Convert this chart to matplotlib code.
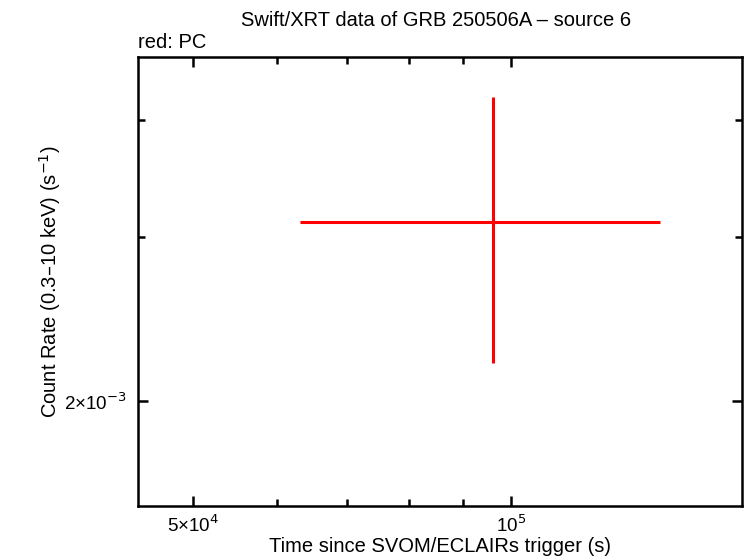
import matplotlib
matplotlib.use("Agg")
import matplotlib.pyplot as plt
from matplotlib.ticker import FixedLocator, FixedFormatter, NullFormatter

plt.rcParams['font.family'] = ['Liberation Sans', 'DejaVu Sans']

# Data (PC mode)
t = [9.62e4]
t_lo = [6.32e4]
t_hi = [1.384e5]
rate = [3.11e-3]
rate_lo = [2.195e-3]
rate_hi = [4.23e-3]

x_major = [5e4, 1e5]
x_major_labels = ['5×10$^{4}$', '10$^{5}$']
x_minor = [6e4, 7e4, 8e4, 9e4]
y_major = [2e-3]
y_major_labels = ['2×10$^{-3}$']
y_minor = [3e-3, 4e-3]

fig = plt.figure(figsize=(7.46, 5.58), dpi=100)
ax = fig.add_axes([138/746, 1-506/558, 604/746, 449/558])
ax.set_xscale('log')
ax.set_yscale('log')

xerr = [[t[i]-t_lo[i] for i in range(len(t))], [t_hi[i]-t[i] for i in range(len(t))]]
yerr = [[rate[i]-rate_lo[i] for i in range(len(t))], [rate_hi[i]-rate[i] for i in range(len(t))]]
ax.errorbar(t, rate, xerr=xerr, yerr=yerr, fmt='none', ecolor='#ff0000', elinewidth=2.2, capsize=0)

ax.set_xlim(4.436e4, 1.655e5)
ax.set_ylim(1.545e-3, 4.67e-3)

ax.xaxis.set_major_locator(FixedLocator(x_major))
ax.xaxis.set_major_formatter(FixedFormatter(x_major_labels))
ax.xaxis.set_minor_locator(FixedLocator(x_minor))
ax.xaxis.set_minor_formatter(NullFormatter())
ax.yaxis.set_major_locator(FixedLocator(y_major))
ax.yaxis.set_major_formatter(FixedFormatter(y_major_labels))
ax.yaxis.set_minor_locator(FixedLocator(y_minor))
ax.yaxis.set_minor_formatter(NullFormatter())

ax.tick_params(which='both', direction='in', top=True, right=True, width=1.8, labelsize=13.5, pad=6)
ax.tick_params(axis='y', pad=8)
ax.tick_params(which='major', length=7)
ax.tick_params(which='minor', length=5)
for s in ax.spines.values():
    s.set_linewidth(1.8)

ax.set_xlabel('Time since SVOM/ECLAIRs trigger (s)', fontsize=14.5, labelpad=1)
ax.set_ylabel('Count Rate (0.3–10 keV) (s$^{-1}$)', fontsize=14.5, labelpad=1)
fig.text(436/746, 1-20/558, 'Swift/XRT data of GRB 250506A – source 6', ha='center', va='center', fontsize=14.5)
fig.text(138/746, 1-43/558, 'red: PC', ha='left', va='center', fontsize=14.5)

fig.savefig('out.png', dpi=100)
